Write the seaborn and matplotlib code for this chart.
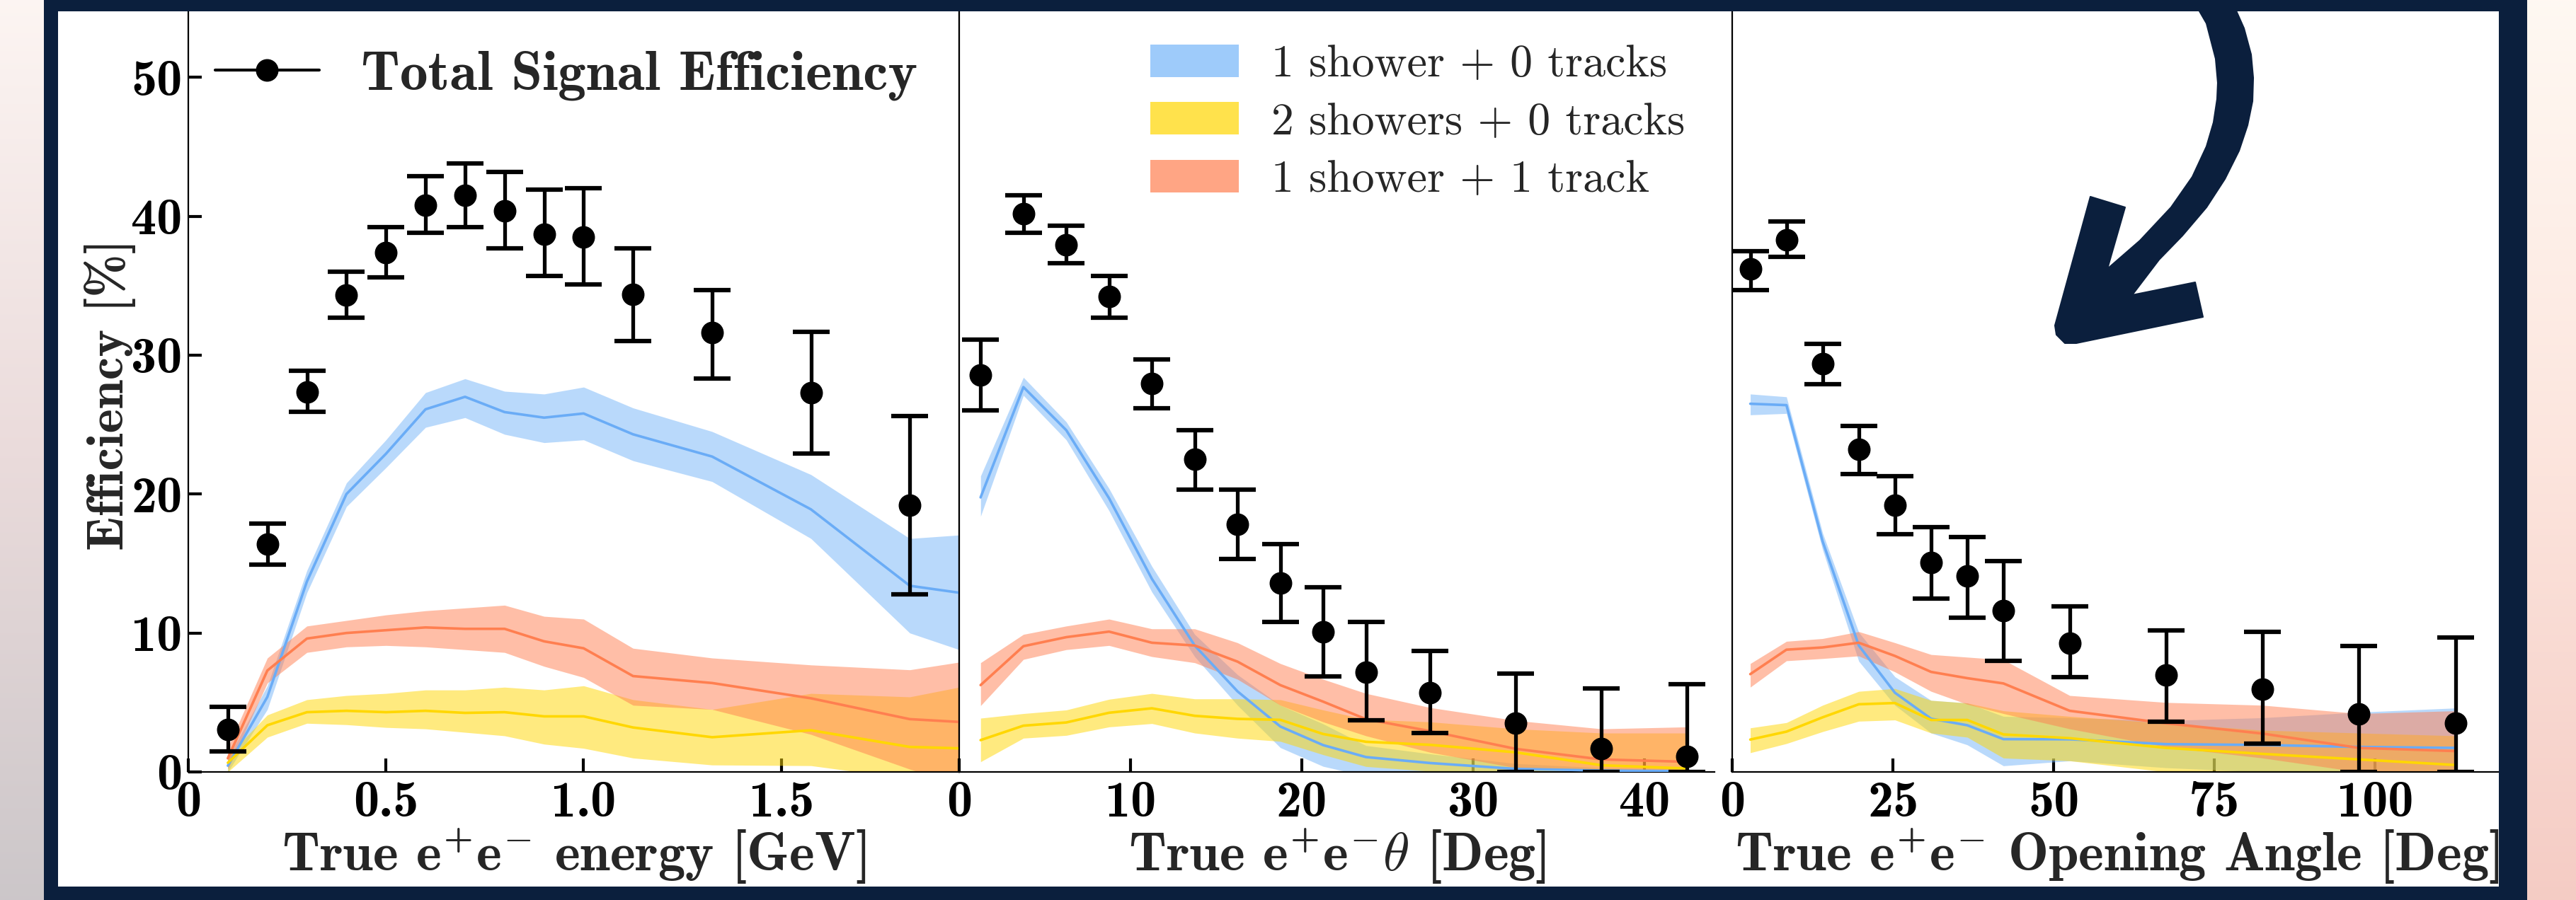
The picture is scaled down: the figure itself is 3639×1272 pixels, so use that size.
import numpy as np
import pandas as pd
import matplotlib
matplotlib.use("Agg")
import matplotlib.pyplot as plt
import seaborn as sns
from matplotlib.lines import Line2D
from matplotlib.patches import Patch, Rectangle, Polygon

# ---------------- data: panel 1 (true e+e- energy, GeV) ----------------
E_X_PTS = [0.1, 0.2, 0.3, 0.4, 0.5, 0.6, 0.7, 0.8, 0.9, 1.0, 1.125, 1.325, 1.575, 1.825]
E_TOT = [3.05, 16.4, 27.35, 34.3, 37.4, 40.8, 41.5, 40.4, 38.7, 38.5, 34.4, 31.6, 27.3, 19.2]
E_TOT_HI = [4.7, 17.9, 28.9, 36.0, 39.2, 42.9, 43.8, 43.2, 41.9, 42.0, 37.7, 34.7, 31.7, 25.6]
E_TOT_LO = [1.5, 14.9, 25.9, 32.7, 35.6, 38.8, 39.2, 37.7, 35.7, 35.1, 31.0, 28.3, 22.9, 12.8]
E_X_LINE = [0.1, 0.2, 0.3, 0.4, 0.5, 0.6, 0.7, 0.8, 0.9, 1.0, 1.125, 1.325, 1.575, 1.825, 2.075]
E_1S0T = [0.45, 5.4, 13.7, 20.0, 22.9, 26.1, 27.0, 25.9, 25.5, 25.8, 24.3, 22.7, 18.9, 13.4, 12.4]
E_1S0T_HI = [1.0, 6.2, 14.5, 20.8, 23.9, 27.3, 28.3, 27.4, 27.2, 27.7, 26.2, 24.5, 21.4, 16.8, 17.3]
E_1S0T_LO = [0.0, 4.5, 12.9, 19.1, 21.9, 24.8, 25.5, 24.3, 23.7, 23.9, 22.4, 20.9, 16.8, 10.0, 7.6]
E_2S0T = [0.66, 3.36, 4.3, 4.4, 4.3, 4.4, 4.25, 4.3, 4.0, 4.0, 3.2, 2.5, 3.0, 1.8, 1.6]
E_2S0T_HI = [1.17, 4.1, 5.2, 5.5, 5.65, 5.9, 5.9, 6.1, 5.9, 6.2, 5.2, 4.5, 5.65, 5.4, 6.8]
E_2S0T_LO = [0.0, 2.5, 3.5, 3.4, 3.2, 3.1, 2.85, 2.6, 2.0, 1.7, 1.0, 0.5, 0.45, -0.5, -1.0]
E_1S1T = [0.98, 7.3, 9.6, 10.0, 10.2, 10.4, 10.3, 10.3, 9.4, 8.9, 6.9, 6.4, 5.3, 3.8, 3.4]
E_1S1T_HI = [1.75, 8.2, 10.5, 10.9, 11.3, 11.6, 11.8, 12.0, 11.2, 11.0, 8.9, 8.2, 7.7, 7.35, 8.45]
E_1S1T_LO = [0.2, 6.4, 8.6, 9.0, 9.1, 9.0, 8.8, 8.6, 7.6, 6.8, 4.8, 4.5, 2.7, 0.2, -2.0]

# ---------------- data: panel 2 (true e+e- theta, deg) ----------------
T_X = [1.25, 3.75, 6.25, 8.75, 11.25, 13.75, 16.25, 18.75, 21.25, 23.75, 27.5, 32.5, 37.5, 42.5]
T_TOT = [28.55, 40.2, 37.95, 34.2, 27.97, 22.5, 17.8, 13.6, 10.1, 7.2, 5.7, 3.5, 1.7, 1.1]
T_TOT_HI = [31.1, 41.5, 39.3, 35.7, 29.7, 24.6, 20.3, 16.4, 13.3, 10.8, 8.7, 7.1, 6.0, 6.3]
T_TOT_LO = [26.0, 38.8, 36.6, 32.7, 26.2, 20.3, 15.35, 10.8, 6.9, 3.7, 2.8, 0.0, 0.0, 0.0]
T_1S0T = [19.76, 27.7, 24.6, 19.7, 13.9, 9.1, 5.8, 3.27, 1.93, 1.07, 0.64, 0.22, 0.1, 0.05]
T_1S0T_HI = [21.3, 28.4, 25.2, 20.4, 14.8, 9.9, 7.0, 4.8, 3.46, 1.9, 1.3, 0.6, 0.3, 0.2]
T_1S0T_LO = [18.4, 27.1, 23.9, 18.8, 12.95, 8.3, 4.8, 1.75, 0.4, -0.3, -0.3, -0.3, -0.3, -0.3]
T_2S0T = [2.29, 3.33, 3.56, 4.26, 4.58, 4.04, 3.82, 3.75, 2.73, 2.17, 1.95, 1.41, 0.48, 0.25]
T_2S0T_HI = [3.87, 4.2, 4.46, 5.23, 5.65, 5.26, 5.26, 5.2, 4.46, 3.78, 3.6, 3.1, 2.8, 2.8]
T_2S0T_LO = [0.73, 2.43, 2.63, 3.24, 3.48, 2.8, 2.43, 2.2, 1.24, 0.39, 0.05, -0.3, -0.3, -0.3]
T_1S1T = [6.25, 9.05, 9.7, 10.1, 9.3, 9.1, 7.94, 6.25, 5.06, 3.8, 2.94, 1.66, 0.9, 0.73]
T_1S1T_HI = [7.86, 9.9, 10.5, 11.0, 10.3, 10.3, 9.3, 7.8, 6.67, 5.65, 4.63, 3.7, 3.1, 3.24]
T_1S1T_LO = [4.77, 8.1, 8.8, 9.1, 8.3, 7.86, 6.67, 4.8, 3.6, 2.6, 1.41, 0.3, 0.0, 0.0]

# ---------------- data: panel 3 (true e+e- opening angle, deg) ----------------
A_X = [2.8125, 8.4375, 14.0625, 19.6875, 25.3125, 30.9375, 36.5625, 42.1875, 52.5, 67.5, 82.5, 97.5, 112.5]
A_TOT = [36.2, 38.3, 29.4, 23.2, 19.2, 15.06, 14.1, 11.6, 9.28, 6.97, 5.98, 4.2, 3.5]
A_TOT_HI = [37.5, 39.6, 30.8, 24.9, 21.3, 17.6, 16.9, 15.2, 11.9, 10.2, 10.07, 9.08, 9.7]
A_TOT_LO = [34.7, 37.05, 27.9, 21.45, 17.1, 12.46, 11.1, 8.0, 6.8, 3.6, 2.06, 0.0, 0.0]
A_1S0T = [26.5, 26.4, 16.6, 9.1, 5.7, 3.83, 3.36, 2.36, 2.35, 2.0, 1.94, 1.8, 1.73]
A_1S0T_HI = [27.2, 27.0, 17.2, 10.05, 6.85, 5.15, 4.96, 4.0, 3.9, 3.7, 3.9, 4.3, 4.6]
A_1S0T_LO = [25.7, 25.8, 16.0, 7.97, 4.8, 2.8, 1.95, 0.44, 0.8, 0.3, 0.0, -0.3, -0.3]
A_2S0T = [2.33, 2.9, 3.93, 4.87, 4.96, 3.74, 3.74, 2.7, 2.43, 1.73, 1.3, 0.9, 0.5]
A_2S0T_HI = [3.17, 3.55, 4.8, 5.8, 6.0, 5.15, 4.96, 4.4, 4.0, 3.5, 3.0, 2.8, 2.6]
A_2S0T_LO = [1.38, 2.04, 2.9, 3.65, 3.74, 2.8, 2.5, 1.0, 0.8, 0.0, -0.3, -0.3, -0.3]
A_1S1T = [7.04, 8.8, 8.96, 9.3, 8.35, 7.2, 6.75, 6.37, 4.4, 3.5, 2.76, 1.73, 1.5]
A_1S1T_HI = [7.8, 9.4, 9.6, 10.1, 9.3, 8.45, 8.26, 8.07, 5.5, 5.0, 4.8, 4.2, 4.4]
A_1S1T_LO = [6.1, 8.0, 8.16, 8.35, 7.2, 5.8, 4.87, 4.2, 3.1, 1.8, 1.0, 0.0, 0.0]

# ---------------- labels / ticks ----------------
CATEGORIES = ["1 shower + 0 tracks", "2 showers + 0 tracks", "1 shower + 1 track"]
TOTAL_LABEL = "Total Signal Efficiency"
XLABELS = [r"True e$^{+}$e$^{-}$ energy [GeV]",
           r"True e$^{+}$e$^{-}\theta$ [Deg]",
           r"True e$^{+}$e$^{-}$ Opening Angle [Deg]"]
YLABEL = "Efficiency [%]"
E_TICKS = [0, 0.5, 1.0, 1.5]
E_TICKLABELS = ["0", "0.5", "1.0", "1.5"]
T_TICKS = [0, 10, 20, 30, 40]
A_TICKS = [0, 25, 50, 75, 100]
Y_TICKS = [0, 10, 20, 30, 40, 50]

# ---------------- style ----------------
LINE_COLORS = ["#6aacf6", "#ffd700", "#ff7f50"]
BAND_COLORS = ["#75b5f9", "#ffd700", "#ff7f50"]
NAVY = "#0b1f3d"
TICK_FS = 52
LABEL_FS = 55

sns.set_theme(style="ticks")
plt.rcParams.update({
    "font.family": ["cmb10", "DejaVu Serif"],
    "mathtext.fontset": "custom",
    "mathtext.rm": "cmb10",
    "mathtext.bf": "cmb10",
    "mathtext.it": "cmmi10",
    "mathtext.fallback": "cm",
    "axes.unicode_minus": False,
    "axes.formatter.use_mathtext": True,
    "axes.edgecolor": "black",
    "axes.linewidth": 1.6,
})

W, H, DPI = 3639, 1272, 100
fig = plt.figure(figsize=(W / DPI, H / DPI), dpi=DPI)


def fx(px):
    return px / W


def fy(py):
    return 1 - py / H


# background with gradient edges and white board
bg = fig.add_axes([0, 0, 1, 1], zorder=-10)
n = 256
t = np.linspace(0, 1, n)[:, None]
left_top, left_mid, left_bot = np.array([0.99, 0.96, 0.95]), np.array([0.92, 0.86, 0.86]), np.array([0.80, 0.78, 0.79])
right_top, right_mid, right_bot = np.array([1.0, 0.975, 0.95]), np.array([0.99, 0.90, 0.87]), np.array([0.96, 0.80, 0.77])


def grad3(a, b, c):
    return np.where(t < 0.5, a + (b - a) * (t / 0.5), b + (c - b) * ((t - 0.5) / 0.5))


img = np.stack([grad3(left_top, left_mid, left_bot), grad3(right_top, right_mid, right_bot)], axis=1)
bg.imshow(img, extent=[0, 1, 0, 1], aspect="auto", interpolation="bilinear", origin="upper")
bg.add_patch(Rectangle((fx(82), fy(1253)), fx(3530) - fx(82), (1253 - 16) / H, color="white", lw=0))
bg.set_xlim(0, 1)
bg.set_ylim(0, 1)
bg.axis("off")

# panels
top_px, bot_px = 11, 1091
hfrac = (bot_px - top_px) / H
ax1 = fig.add_axes([fx(266), fy(bot_px), (1355 - 266) / W, hfrac])
ax2 = fig.add_axes([fx(1355), fy(bot_px), (2422 - 1355) / W, hfrac])
ax3 = fig.add_axes([fx(2447), fy(bot_px), (3535 - 2447) / W, hfrac])


def draw_panel(ax, x_line, series, x_pts, tot, hi, lo):
    for (c, c_hi, c_lo), bc in zip(series, BAND_COLORS):
        ax.fill_between(x_line, c_lo, c_hi, color=bc, alpha=0.5, lw=0, zorder=2)
    for (c, c_hi, c_lo), lc in zip(series, LINE_COLORS):
        df = pd.DataFrame({"x": x_line, "y": c})
        sns.lineplot(data=df, x="x", y="y", ax=ax, color=lc, lw=2.6, zorder=3, legend=False)
    tot = np.array(tot)
    yerr = [tot - np.array(lo), np.array(hi) - tot]
    ax.errorbar(x_pts, tot, yerr=yerr, fmt="o", color="black", ms=22, elinewidth=3.8,
                capsize=19, capthick=4.5, zorder=5)
    ax.set_ylim(0, 55)
    ax.set_facecolor("white")
    ax.tick_params(direction="in", length=13.5, width=3, labelsize=TICK_FS, pad=9, colors="black")
    ax.set_ylabel("")


draw_panel(ax1, E_X_LINE,
           [(E_1S0T, E_1S0T_HI, E_1S0T_LO), (E_2S0T, E_2S0T_HI, E_2S0T_LO), (E_1S1T, E_1S1T_HI, E_1S1T_LO)],
           E_X_PTS, E_TOT, E_TOT_HI, E_TOT_LO)
draw_panel(ax2, T_X,
           [(T_1S0T, T_1S0T_HI, T_1S0T_LO), (T_2S0T, T_2S0T_HI, T_2S0T_LO), (T_1S1T, T_1S1T_HI, T_1S1T_LO)],
           T_X, T_TOT, T_TOT_HI, T_TOT_LO)
draw_panel(ax3, A_X,
           [(A_1S0T, A_1S0T_HI, A_1S0T_LO), (A_2S0T, A_2S0T_HI, A_2S0T_LO), (A_1S1T, A_1S1T_HI, A_1S1T_LO)],
           A_X, A_TOT, A_TOT_HI, A_TOT_LO)

ax1.set_xlim(0, 1.95)
ax2.set_xlim(0, 44.1)
ax3.set_xlim(0, 119.8)

ax1.set_xticks(E_TICKS, E_TICKLABELS)
ax2.set_xticks(T_TICKS, [str(v) for v in T_TICKS])
ax3.set_xticks(A_TICKS, [str(v) for v in A_TICKS])
ax1.set_yticks(Y_TICKS, [str(v) for v in Y_TICKS])
ax1.tick_params(axis="y", pad=6)
for ax in (ax2, ax3):
    ax.set_yticks([])
    ax.tick_params(axis="y", left=False, labelleft=False)
ax2.spines["right"].set_visible(False)

for ax, lab in zip((ax1, ax2, ax3), XLABELS):
    ax.set_xlabel(lab, fontsize=LABEL_FS)
    ax.xaxis.set_label_coords(0.5, -0.072)
ax1.set_ylabel(YLABEL, fontsize=53)
ax1.yaxis.set_label_coords(-0.068, 0.494)

# legends
h_tot = Line2D([], [], color="black", marker="o", ms=22, lw=3)
ax1.legend([h_tot], [TOTAL_LABEL], loc="upper left", bbox_to_anchor=(0.035, 0.944),
           frameon=False, fontsize=57, handlelength=1.85, handletextpad=0.75,
           borderpad=0, borderaxespad=0)
h_cat = [Patch(facecolor=c, alpha=0.7, lw=0) for c in BAND_COLORS]
ax2.legend(h_cat, CATEGORIES, loc="upper left", bbox_to_anchor=(0.253, 0.952),
           frameon=False, prop={"family": "cmr10", "size": 46}, handlelength=1.96,
           handleheight=0.73, handletextpad=0.72, labelspacing=0.365,
           borderpad=0, borderaxespad=0)

# navy frame
for (x0, y0, x1, y1) in [(62, 0, 3570, 16), (62, 1253, 3570, 1272), (62, 0, 82, 1272), (3530, 0, 3570, 1272)]:
    fig.add_artist(Rectangle((fx(x0), fy(y1)), (x1 - x0) / W, (y1 - y0) / H,
                             transform=fig.transFigure, color=NAVY, lw=0, zorder=20))

# decorative curved arrow (outline in figure pixels)
ARROW_PX = [
    (3150, -5), (3170, 40), (3180, 77), (3183, 110), (3182, 143), (3175, 177), (3163, 213),
    (3143, 253), (3117, 293), (3083, 333), (3050, 367), (3012, 417),
    (3101, 399), (3112, 448), (2933, 485), (2917, 485), (2905, 473), (2903, 460),
    (2953, 278), (3002, 293), (2977, 380),
    (3023, 340), (3067, 293), (3097, 250), (3117, 207), (3127, 173), (3132, 140),
    (3133, 117), (3130, 83), (3117, 33), (3095, -5),
]
fig.add_artist(Polygon([(fx(px), fy(py)) for px, py in ARROW_PX], closed=True,
                       transform=fig.transFigure, facecolor=NAVY, edgecolor=NAVY,
                       lw=1.5, joinstyle="round", zorder=21))

fig.savefig("out.png", dpi=DPI)
